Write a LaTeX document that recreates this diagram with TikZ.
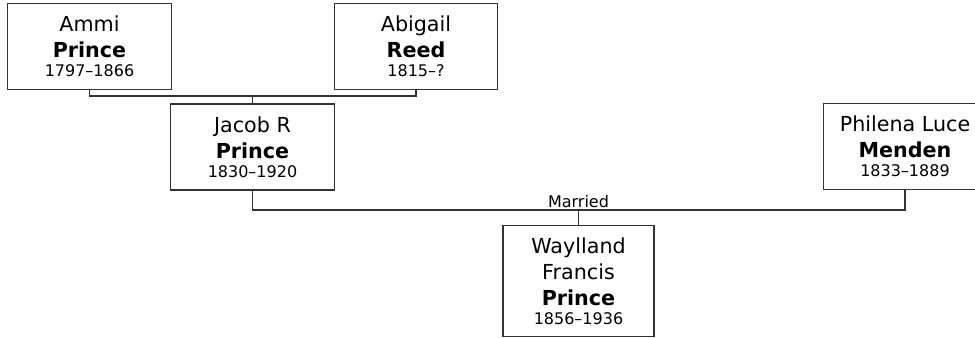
\documentclass[tikz,border=0pt]{standalone}
\usepackage{fontspec}
\setmainfont{DejaVu Sans}
\newcommand{\yrs}[1]{\\[-5pt]{\fontsize{12}{14}\selectfont #1}}

\begin{document}
\begin{tikzpicture}[x=0.75pt, y=-0.75pt,
  person/.style={draw=black!80, line width=0.9pt, align=center, inner sep=0pt,
    minimum width=122.5pt, minimum height=64.5pt,
    font=\fontsize{15.5}{19.5}\selectfont},
  link/.style={draw=black!80, line width=0.9pt}]
\useasboundingbox (0,0) rectangle (975,337);
\clip (0,0) rectangle (975,337);
\node(Ammi) [person] at (89.5,46.5) {Ammi\\\textbf{Prince}\yrs{1797–1866}};
\node(Abigail) [person] at (416,46.5) {Abigail\\\textbf{Reed}\yrs{1815–?}};
\node(Jacob) [person] at (252.5,147) {Jacob R\\\textbf{Prince}\yrs{1830–1920}};
\node(Philena) [person] at (905,146.5) {Philena Luce\\\textbf{Menden}\yrs{1833–1889}};
\node(Waylland) [person, minimum width=113.25pt, minimum height=83.25pt] at (578.5,281)
  {Waylland\\Francis\\\textbf{Prince}\yrs{1856–1936}};
\coordinate(P) at (252.5,96);
\coordinate(M) at (578.5,210);
\draw[link] (Ammi.south) |- (P) -| (Abigail.south);
\draw[link] (P) -- (Jacob.north);
\draw[link] (Jacob.south) |- (M) -| (Philena.south);
\draw[link] (M) -- (Waylland.north);
\node(Married) [anchor=base, inner sep=0pt, font=\fontsize{12}{14}\selectfont] at (578.5,207) {Married};
\end{tikzpicture}
\end{document}
